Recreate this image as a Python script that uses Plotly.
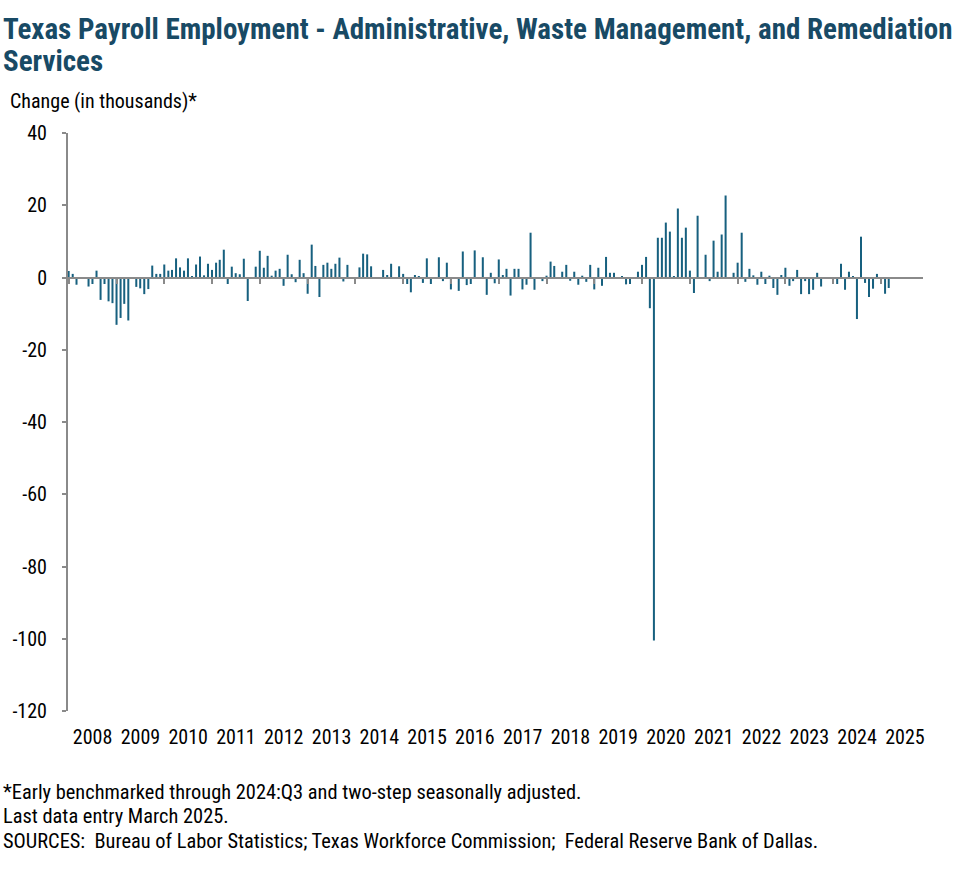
import pandas as pd
import plotly.graph_objects as go

# ---------------- data (monthly change, thousands) ----------------
start_month = "2008-01-01"
v2008 = [1.8, 1.0, -2.0, -0.4, 0.0, -2.5, -1.8, 1.9, -6.2, -1.8, -6.6, -7.1]
v2009 = [-13.1, -11.2, -7.3, -11.9, 0.0, -2.6, -3.0, -4.6, -3.2, 3.3, 1.0, 1.0]
v2010 = [3.6, 1.9, 2.1, 5.3, 2.8, 1.9, 5.3, 0.4, 3.6, 5.8, 0.6, 3.8]
v2011 = [2.1, 4.1, 4.9, 7.7, -1.8, 3.0, 1.2, 0.9, 5.2, -6.5, 0.0, 3.0]
v2012 = [7.4, 2.7, 6.0, 0.5, 1.9, 2.4, -2.3, 6.3, 0.9, -1.3, 4.9, 1.2]
v2013 = [-4.5, 9.1, 3.2, -5.4, 3.5, 4.1, 2.4, 3.8, 5.5, -1.1, 3.5, 0.0]
v2014 = [0.0, 2.8, 6.6, 6.4, 3.1, 0.0, 0.0, 2.1, 0.7, 3.8, 0.0, 3.1]
v2015 = [1.0, -1.8, -4.1, 0.7, 0.3, -1.5, 5.3, -1.8, 0.0, 5.6, -1.0, 4.1]
v2016 = [-3.3, 0.0, -3.7, 7.2, -2.1, -1.8, 7.5, 0.0, 5.6, -4.8, 1.3, -1.6]
v2017 = [5.0, 0.7, 2.4, -5.0, 2.4, 2.4, -3.3, -2.0, 12.4, -3.4, 0.0, -1.0]
v2018 = [0.5, 4.4, 3.2, 0.0, 1.6, 3.5, -0.9, 1.6, -2.0, 0.5, -1.2, 3.5]
v2019 = [-3.3, 2.7, -2.3, 5.7, 1.3, 1.3, 0.0, 0.3, -1.9, -1.8, 0.0, 1.6]
v2020 = [3.5, 5.7, -8.5, -100.5, 11.0, 11.0, 15.2, 12.7, 0.2, 19.1, 11.0, 13.8]
v2021 = [1.9, -4.3, 17.1, 0.0, 6.3, -1.0, 10.2, 1.6, 11.9, 22.7, 0.0, 1.3]
v2022 = [4.1, 12.4, -1.2, 2.4, 0.6, -2.0, 1.6, -1.8, 0.5, -2.9, -4.8, 0.7]
v2023 = [2.7, -2.3, -1.0, 2.1, -4.6, -1.0, -4.6, -3.4, 1.3, -2.5, 0.0, 0.0]
v2024 = [-0.5, -1.8, 3.8, -3.4, 1.6, 0.3, -11.5, 11.3, -1.5, -5.4, -3.1, 1.0]
v2025 = [-0.5, -4.5, -2.9]

values = (v2008 + v2009 + v2010 + v2011 + v2012 + v2013 + v2014 + v2015 + v2016
          + v2017 + v2018 + v2019 + v2020 + v2021 + v2022 + v2023 + v2024 + v2025)
months = pd.date_range(start_month, periods=len(values), freq="MS")

y_tick_vals = [40, 20, 0, -20, -40, -60, -80, -100, -120]
y_tick_text = ["40", "20", "0", "-20", "-40", "-60", "-80", "-100", "-120"]
y_min, y_max = -120, 40
x_start, x_end = "2007-12-27", "2025-11-18"

title_1 = "Texas Payroll Employment - Administrative, Waste Management, and Remediation"
title_2 = "Services"
y_title = "Change (in thousands)*"
notes = [
    "*Early benchmarked through 2024:Q3 and two-step seasonally adjusted.",
    "Last data entry March 2025.",
    "SOURCES:  Bureau of Labor Statistics; Texas Workforce Commission;  Federal Reserve Bank of Dallas.",
]

# ---------------- style ----------------
W, H = 979, 878
L, R, T, B = 66, 56, 133, 167
FONT = "Roboto Condensed, Liberation Sans Narrow, Arial Narrow, sans-serif"
BAR = "#17607f"
AXIS = "#8a8a8a"
TITLE_C = "#184a65"
TXT = 20
NOTE = 20.4


def pyf(p):
    return (H - B - p) / (H - T - B)


def pxf(p):
    return (p - L) / (W - L - R)


fig = go.Figure()
fig.add_trace(go.Bar(x=months, y=values, marker_color=BAR, marker_line_width=0,
                     xaxis="x", yaxis="y", showlegend=False))
fig.add_trace(go.Scatter(x=months, y=values, mode="markers", marker=dict(opacity=0),
                         xaxis="x2", yaxis="y", hoverinfo="skip", showlegend=False))

zero_pos = (0 - y_min) / (y_max - y_min)

fig.update_layout(
    width=W, height=H,
    margin=dict(l=L, r=R, t=T, b=B),
    paper_bgcolor="white", plot_bgcolor="white",
    bargap=0.45,
    font=dict(family=FONT, size=TXT, color="#000000"),
    xaxis=dict(type="date", range=[x_start, x_end], anchor="free", position=zero_pos,
               showline=True, linecolor=AXIS, linewidth=2,
               ticks="outside", ticklen=5, tickwidth=2, tickcolor=AXIS,
               dtick="M12", tick0="2008-01-01", showticklabels=False,
               showgrid=False, zeroline=False),
    xaxis2=dict(type="date", range=[x_start, x_end], overlaying="x", anchor="y", side="bottom",
                showline=False, ticks="", dtick="M12", tick0="2008-01-01",
                tickformat="%Y", ticklabelmode="period", showgrid=False, zeroline=False,
                ticklabelstandoff=12,
                tickfont=dict(family=FONT, size=TXT, color="#000000")),
    yaxis=dict(range=[y_min, y_max], tickvals=y_tick_vals, ticktext=y_tick_text,
               showline=True, linecolor=AXIS, linewidth=2,
               ticks="outside", ticklen=4, tickwidth=2, tickcolor=AXIS,
               showgrid=False, zeroline=False, ticklabelstandoff=11,
               tickfont=dict(family=FONT, size=TXT, color="#000000")),
)

ann = []
ann.append(dict(text=f"<b>{title_1}</b>", x=pxf(-1), y=pyf(29), xref="paper", yref="paper",
                xanchor="left", yanchor="middle", showarrow=False,
                font=dict(family=FONT, size=29, color=TITLE_C)))
ann.append(dict(text=f"<b>{title_2}</b>", x=pxf(-1), y=pyf(61), xref="paper", yref="paper",
                xanchor="left", yanchor="middle", showarrow=False,
                font=dict(family=FONT, size=29, color=TITLE_C)))
ann.append(dict(text=y_title, x=pxf(6), y=pyf(101), xref="paper", yref="paper",
                xanchor="left", yanchor="middle", showarrow=False,
                font=dict(family=FONT, size=TXT, color="#000000")))
for t, yy in zip(notes, [792, 816, 841]):
    ann.append(dict(text=t, x=pxf(-1), y=pyf(yy), xref="paper", yref="paper",
                    xanchor="left", yanchor="middle", showarrow=False,
                    font=dict(family=FONT, size=NOTE, color="#000000")))
fig.update_layout(annotations=ann)

fig.write_html("out.html", config={"displayModeBar": False},
               post_script="document.body.style.margin='0';document.body.style.overflow='hidden';")
